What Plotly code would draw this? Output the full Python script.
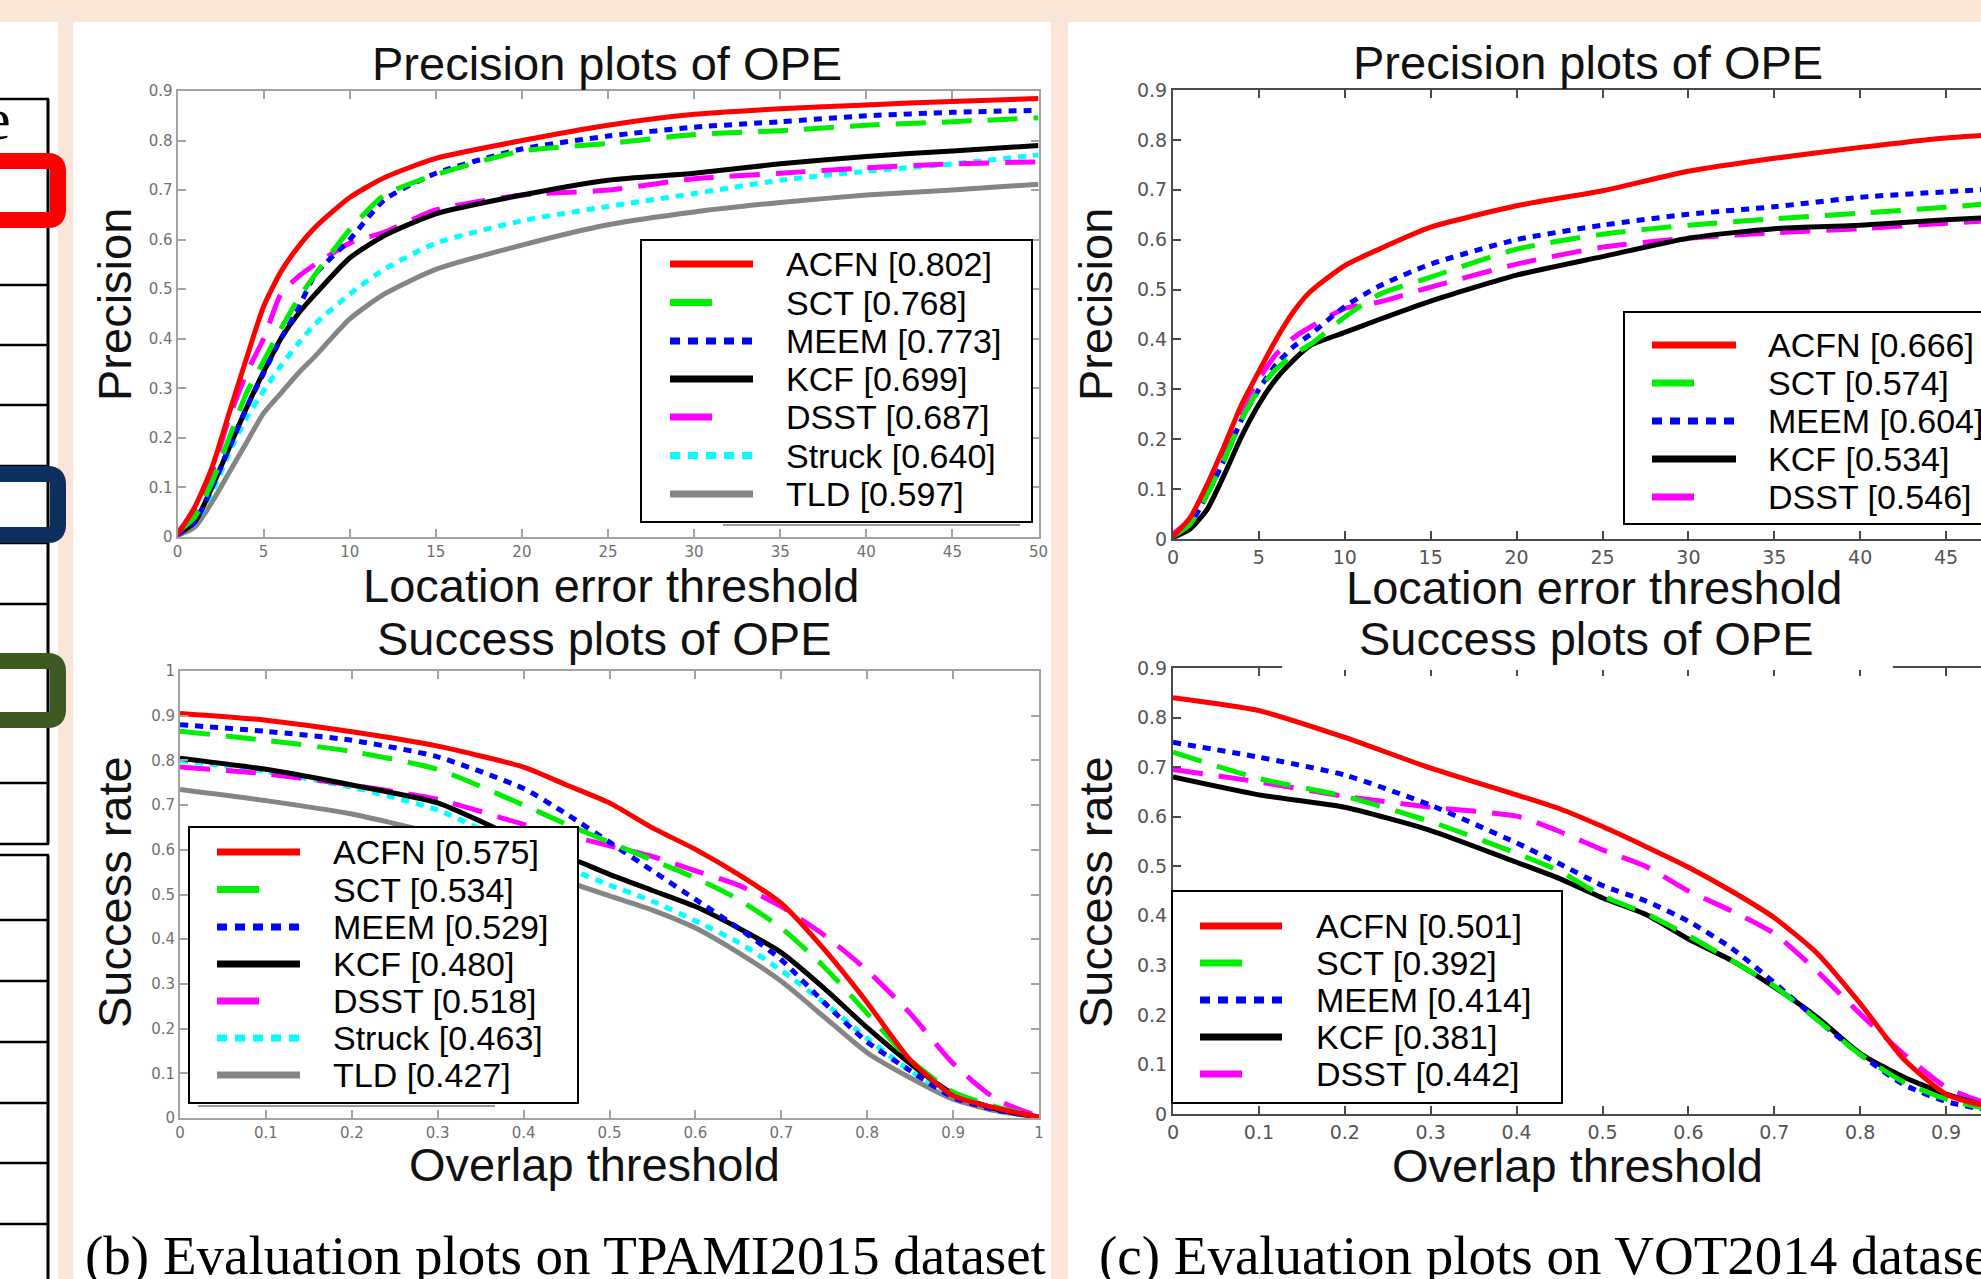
import plotly.graph_objects as go

W, H = 1981, 1279

# ---------------- data ----------------
trackers = ["ACFN", "SCT", "MEEM", "KCF", "DSST", "Struck", "TLD"]

prec_thresholds = [0, 1, 2, 3, 4, 5, 6, 7, 8, 10, 12, 15, 20, 25, 30, 35, 40, 45, 50]
overlap_thresholds = [0, 0.1, 0.2, 0.3, 0.4, 0.45, 0.5, 0.55, 0.6, 0.65, 0.7, 0.75, 0.8, 0.85, 0.9, 0.95, 1.0]

# TPAMI2015 precision
tpami_prec_acfn = [0.005, 0.06, 0.14, 0.25, 0.36, 0.465, 0.535, 0.585, 0.625, 0.685, 0.725, 0.764, 0.80, 0.831, 0.853, 0.864, 0.872, 0.879, 0.885]
tpami_prec_sct = [0.01, 0.04, 0.11, 0.20, 0.29, 0.355, 0.42, 0.48, 0.53, 0.62, 0.69, 0.731, 0.779, 0.794, 0.812, 0.82, 0.831, 0.838, 0.846]
tpami_prec_meem = [0.005, 0.03, 0.10, 0.18, 0.26, 0.33, 0.40, 0.46, 0.53, 0.60, 0.68, 0.734, 0.783, 0.809, 0.827, 0.838, 0.85, 0.857, 0.861]
tpami_prec_kcf = [0.005, 0.03, 0.10, 0.18, 0.26, 0.333, 0.40, 0.45, 0.49, 0.563, 0.608, 0.652, 0.69, 0.72, 0.734, 0.753, 0.768, 0.779, 0.79]
tpami_prec_dsst = [0.01, 0.05, 0.13, 0.24, 0.33, 0.40, 0.49, 0.525, 0.55, 0.593, 0.615, 0.66, 0.69, 0.70, 0.723, 0.734, 0.745, 0.753, 0.757]
tpami_prec_struck = [0.005, 0.03, 0.09, 0.17, 0.24, 0.295, 0.345, 0.39, 0.43, 0.49, 0.54, 0.593, 0.638, 0.667, 0.693, 0.72, 0.738, 0.753, 0.771]
tpami_prec_tld = [0.003, 0.02, 0.07, 0.13, 0.19, 0.25, 0.29, 0.33, 0.365, 0.44, 0.49, 0.54, 0.589, 0.63, 0.656, 0.675, 0.69, 0.70, 0.712]

# TPAMI2015 success
tpami_succ_acfn = [0.905, 0.89, 0.864, 0.832, 0.785, 0.745, 0.705, 0.649, 0.601, 0.545, 0.48, 0.377, 0.258, 0.13, 0.05, 0.022, 0.002]
tpami_succ_sct = [0.865, 0.845, 0.82, 0.78, 0.70, 0.657, 0.617, 0.577, 0.537, 0.489, 0.425, 0.338, 0.234, 0.13, 0.058, 0.025, 0.003]
tpami_succ_meem = [0.88, 0.865, 0.845, 0.808, 0.737, 0.68, 0.617, 0.553, 0.489, 0.425, 0.354, 0.258, 0.17, 0.106, 0.046, 0.018, 0.002]
tpami_succ_kcf = [0.805, 0.78, 0.745, 0.705, 0.62, 0.585, 0.545, 0.509, 0.473, 0.425, 0.37, 0.29, 0.202, 0.122, 0.054, 0.02, 0.002]
tpami_succ_dsst = [0.785, 0.77, 0.745, 0.713, 0.657, 0.633, 0.609, 0.585, 0.553, 0.521, 0.473, 0.409, 0.33, 0.234, 0.122, 0.042, 0.003]
tpami_succ_struck = [0.80, 0.775, 0.74, 0.689, 0.60, 0.56, 0.521, 0.485, 0.441, 0.393, 0.33, 0.258, 0.178, 0.106, 0.05, 0.02, 0.002]
tpami_succ_tld = [0.735, 0.71, 0.68, 0.635, 0.575, 0.53, 0.497, 0.465, 0.425, 0.37, 0.306, 0.226, 0.146, 0.09, 0.042, 0.016, 0.002]

# VOT2014 precision
vot_prec_acfn = [0.005, 0.043, 0.11, 0.188, 0.27, 0.336, 0.40, 0.455, 0.496, 0.548, 0.581, 0.625, 0.668, 0.698, 0.737, 0.763, 0.785, 0.804, 0.815]
vot_prec_sct = [0.005, 0.03, 0.09, 0.16, 0.24, 0.30, 0.34, 0.37, 0.39, 0.445, 0.49, 0.525, 0.581, 0.611, 0.629, 0.642, 0.653, 0.665, 0.68]
vot_prec_meem = [0.005, 0.03, 0.09, 0.16, 0.24, 0.30, 0.35, 0.385, 0.41, 0.466, 0.507, 0.551, 0.60, 0.629, 0.651, 0.666, 0.685, 0.696, 0.706]
vot_prec_kcf = [0.003, 0.02, 0.06, 0.13, 0.206, 0.27, 0.321, 0.358, 0.388, 0.414, 0.44, 0.477, 0.529, 0.566, 0.603, 0.622, 0.629, 0.64, 0.648]
vot_prec_dsst = [0.01, 0.04, 0.10, 0.18, 0.26, 0.321, 0.37, 0.403, 0.425, 0.462, 0.475, 0.505, 0.551, 0.585, 0.603, 0.614, 0.622, 0.633, 0.642]

# VOT2014 success
vot_succ_acfn = [0.84, 0.814, 0.76, 0.698, 0.644, 0.616, 0.58, 0.54, 0.498, 0.45, 0.396, 0.324, 0.223, 0.112, 0.04, 0.015, 0.003]
vot_succ_sct = [0.73, 0.677, 0.641, 0.59, 0.526, 0.49, 0.44, 0.405, 0.36, 0.31, 0.258, 0.19, 0.12, 0.065, 0.03, 0.01, 0.002]
vot_succ_meem = [0.75, 0.72, 0.684, 0.623, 0.547, 0.505, 0.461, 0.43, 0.389, 0.335, 0.265, 0.19, 0.12, 0.06, 0.025, 0.008, 0.001]
vot_succ_kcf = [0.68, 0.644, 0.619, 0.572, 0.508, 0.475, 0.436, 0.403, 0.353, 0.31, 0.256, 0.195, 0.122, 0.075, 0.04, 0.015, 0.002]
vot_succ_dsst = [0.695, 0.67, 0.641, 0.619, 0.601, 0.57, 0.533, 0.50, 0.45, 0.41, 0.364, 0.288, 0.202, 0.122, 0.054, 0.02, 0.002]

# legend scores
tpami_prec_scores = ["0.802", "0.768", "0.773", "0.699", "0.687", "0.640", "0.597"]
tpami_succ_scores = ["0.575", "0.534", "0.529", "0.480", "0.518", "0.463", "0.427"]
vot_prec_scores = ["0.666", "0.574", "0.604", "0.534", "0.546"]
vot_succ_scores = ["0.501", "0.392", "0.414", "0.381", "0.442"]

# tick labels
prec_xticks = [0, 5, 10, 15, 20, 25, 30, 35, 40, 45, 50]
prec_xticktext = ["0", "5", "10", "15", "20", "25", "30", "35", "40", "45", "50"]
y09_ticks = [0, 0.1, 0.2, 0.3, 0.4, 0.5, 0.6, 0.7, 0.8, 0.9]
y09_ticktext = ["0", "0.1", "0.2", "0.3", "0.4", "0.5", "0.6", "0.7", "0.8", "0.9"]
u1_ticks = [0, 0.1, 0.2, 0.3, 0.4, 0.5, 0.6, 0.7, 0.8, 0.9, 1]
u1_ticktext = ["0", "0.1", "0.2", "0.3", "0.4", "0.5", "0.6", "0.7", "0.8", "0.9", "1"]

panel_b_caption = "(b) Evaluation plots on TPAMI2015 dataset"
panel_c_caption = "(c) Evaluation plots on VOT2014 dataset"

tpami_prec = dict(zip(trackers, [tpami_prec_acfn, tpami_prec_sct, tpami_prec_meem, tpami_prec_kcf,
                                 tpami_prec_dsst, tpami_prec_struck, tpami_prec_tld]))
tpami_succ = dict(zip(trackers, [tpami_succ_acfn, tpami_succ_sct, tpami_succ_meem, tpami_succ_kcf,
                                 tpami_succ_dsst, tpami_succ_struck, tpami_succ_tld]))
vot_prec = dict(zip(trackers[:5], [vot_prec_acfn, vot_prec_sct, vot_prec_meem, vot_prec_kcf, vot_prec_dsst]))
vot_succ = dict(zip(trackers[:5], [vot_succ_acfn, vot_succ_sct, vot_succ_meem, vot_succ_kcf, vot_succ_dsst]))

# ---------------- styles ----------------
colors = {"ACFN": "#FF0000", "SCT": "#00EE00", "MEEM": "#0000FF", "KCF": "#000000",
          "DSST": "#FF00FF", "Struck": "#00FFFF", "TLD": "#858585"}
dashes = {"ACFN": "solid", "SCT": "30px,16px", "MEEM": "8px,7px", "KCF": "solid",
          "DSST": "30px,16px", "Struck": "8px,7px", "TLD": "solid"}
legend_dashes = {"ACFN": "solid", "SCT": "42px,80px", "MEEM": "10px,8px", "KCF": "solid",
                 "DSST": "42px,80px", "Struck": "10px,8px", "TLD": "solid"}

SANS = "Liberation Sans, Arial, Helvetica, sans-serif"
SERIF = "Liberation Serif, Times New Roman, serif"
TICKFONT = "DejaVu Sans, sans-serif"


def px(x):
    return x / W


def py(y):
    return 1 - y / H


fig = go.Figure()

panels = [
    ("x", "y", prec_thresholds, tpami_prec, trackers),
    ("x2", "y2", overlap_thresholds, tpami_succ, trackers),
    ("x3", "y3", prec_thresholds, vot_prec, trackers[:5]),
    ("x4", "y4", overlap_thresholds, vot_succ, trackers[:5]),
]
for xa, ya, xs, data, names in panels:
    for name in reversed(names):
        fig.add_trace(go.Scatter(
            x=xs, y=data[name], mode="lines", name=name, showlegend=False,
            line=dict(color=colors[name], width=5, dash=dashes[name], shape="spline", smoothing=0.6),
            xaxis=xa, yaxis=ya, hoverinfo="skip"))


def make_axis(domain, rng, tickvals, ticktext, dark, mirror, anchor, fsize):
    col = "#4a4a4a" if dark else "#a3a3a3"
    return dict(domain=domain, range=rng, tickvals=tickvals, ticktext=ticktext,
                ticks="inside", ticklen=8, tickwidth=2, tickcolor=col,
                showline=True, linecolor=col, linewidth=2, mirror=mirror,
                showgrid=False, zeroline=False, anchor=anchor, automargin=False,
                tickfont=dict(family=TICKFONT, size=fsize, color="#555555" if dark else "#707070"))


right_x_end = 2032.0  # pixel where x=50 / x=1 would fall (beyond the window)
frac_visible = (W - 1173) / (right_x_end - 1173)

fig.update_layout(
    xaxis=make_axis([px(177.5), px(1038.5)], [0, 50], prec_xticks, prec_xticktext, False, "ticks", "y", 15),
    yaxis=make_axis([py(537), py(91)], [0, 0.9], y09_ticks, y09_ticktext, False, "ticks", "x", 15),
    xaxis2=make_axis([px(180), px(1039)], [0, 1], u1_ticks, u1_ticktext, False, "ticks", "y2", 15),
    yaxis2=make_axis([py(1118), py(671)], [0, 1], u1_ticks, u1_ticktext, False, "ticks", "x2", 15),
    xaxis3=make_axis([px(1173), 1.0], [0, 50 * frac_visible], prec_xticks, prec_xticktext, True, "ticks", "y3", 19),
    yaxis3=make_axis([py(539), py(90)], [0, 0.9], y09_ticks, y09_ticktext, True, False, "x3", 19),
    xaxis4=make_axis([px(1173), 1.0], [0, 1 * frac_visible], u1_ticks, u1_ticktext, True, "ticks", "y4", 19),
    yaxis4=make_axis([py(1114), py(668)], [0, 0.9], y09_ticks, y09_ticktext, True, False, "x4", 19),
)

shapes = []
annotations = []

# page background panels
shapes.append(dict(type="rect", xref="paper", yref="paper", x0=px(-5), x1=px(58), y0=py(1290), y1=py(22),
                   fillcolor="white", line=dict(width=0), layer="below"))
shapes.append(dict(type="rect", xref="paper", yref="paper", x0=px(73), x1=px(1051), y0=py(1290), y1=py(22),
                   fillcolor="white", line=dict(width=0), layer="below"))
shapes.append(dict(type="rect", xref="paper", yref="paper", x0=px(1068), x1=px(1990), y0=py(1290), y1=py(22),
                   fillcolor="white", line=dict(width=0), layer="below"))

# left table fragment
table_rows_1 = [99, 162, 224, 285, 345, 405, 466, 543, 604, 665, 724, 783, 844]
table_rows_2 = [855, 920, 981, 1042, 1103, 1163, 1224]
for yy in table_rows_1 + table_rows_2:
    shapes.append(dict(type="line", xref="paper", yref="paper", x0=px(-5), x1=px(49), y0=py(yy), y1=py(yy),
                       line=dict(color="black", width=2.5)))
shapes.append(dict(type="line", xref="paper", yref="paper", x0=px(48), x1=px(48), y0=py(99), y1=py(844),
                   line=dict(color="black", width=3)))
shapes.append(dict(type="line", xref="paper", yref="paper", x0=px(48), x1=px(48), y0=py(855), y1=py(1290),
                   line=dict(color="black", width=3)))
annotations.append(dict(text="e", x=px(13), y=py(119), xref="paper", yref="paper", xanchor="right",
                        yanchor="middle", showarrow=False, font=dict(family=SERIF, size=60, color="black")))


def rounded_rect(x0, y0, x1, y1, r):
    X0, X1 = px(x0), px(x1)
    Y0, Y1 = py(y0), py(y1)
    rx, ry = r / W, r / H
    return (f"M {X0},{Y0} L {X1 - rx},{Y0} Q {X1},{Y0} {X1},{Y0 - ry} "
            f"L {X1},{Y1 + ry} Q {X1},{Y1} {X1 - rx},{Y1} L {X0},{Y1}")


for (ya, yb, col) in [(161, 220, "#FF0000"), (474, 535, "#0D2F5E"), (661, 720, "#3D5A22")]:
    shapes.append(dict(type="path", xref="paper", yref="paper", path=rounded_rect(-30, ya, 58, yb, 10),
                       line=dict(color=col, width=16)))

# broken top frame line on the VOT success plot
shapes.append(dict(type="line", xref="x4", yref="y4 domain", x0=0.127, x1=0.838, y0=1, y1=1,
                   line=dict(color="white", width=4), layer="above"))


def add_legend(box, rows, sample, text_x, names, scores, shadow=None):
    x0, y0, x1, y1 = box
    if shadow is not None:
        shapes.append(dict(type="line", xref="paper", yref="paper", x0=px(shadow[0]), x1=px(shadow[1]),
                           y0=py(y1 + 3), y1=py(y1 + 3), layer="above",
                           line=dict(color="#9a9a9a", width=2)))
    shapes.append(dict(type="rect", xref="paper", yref="paper", x0=px(x0), x1=px(x1), y0=py(y1), y1=py(y0),
                       line=dict(color="black", width=2), fillcolor="white", layer="above"))
    for name, score, yy in zip(names, scores, rows):
        shapes.append(dict(type="line", xref="paper", yref="paper", x0=px(sample[0]), x1=px(sample[1]),
                           y0=py(yy), y1=py(yy), layer="above",
                           line=dict(color=colors[name], width=7, dash=legend_dashes[name])))
        annotations.append(dict(text=f"{name} [{score}]", x=px(text_x), y=py(yy), xref="paper", yref="paper",
                                xanchor="left", yanchor="middle", showarrow=False,
                                font=dict(family=SANS, size=34, color="black")))


add_legend((641, 240, 1032, 522), [264, 302.5, 341, 379, 417, 455.5, 494], (670, 753), 784,
           trackers, tpami_prec_scores, shadow=(723, 1020))
add_legend((189, 827, 578, 1103), [852, 889.5, 927, 964, 1001, 1038, 1075], (217, 300), 331,
           trackers, tpami_succ_scores, shadow=(198, 495))
add_legend((1624, 312, 2100, 524), [345, 383, 421, 459, 497], (1652, 1736), 1766,
           trackers[:5], vot_prec_scores)
add_legend((1172, 891, 1562, 1103), [926, 963, 1000, 1037, 1074], (1200, 1282), 1314,
           trackers[:5], vot_succ_scores)

# titles and axis labels
labels = [
    ("Precision plots of OPE", 607, 64, 0),
    ("Location error threshold", 611, 586, 0),
    ("Success plots of OPE", 604, 638, 0),
    ("Overlap threshold", 594, 1164, 0),
    ("Precision", 114, 305, -90),
    ("Success rate", 114, 892, -90),
    ("Precision plots of OPE", 1588, 63, 0),
    ("Location error threshold", 1594, 587, 0),
    ("Success plots of OPE", 1586, 638, 0),
    ("Overlap threshold", 1577, 1165, 0),
    ("Precision", 1095, 305, -90),
    ("Success rate", 1095, 892, -90),
]
for text, xx, yy, ang in labels:
    annotations.append(dict(text=text, x=px(xx), y=py(yy), xref="paper", yref="paper", xanchor="center",
                            yanchor="middle", showarrow=False, textangle=ang,
                            font=dict(family=SANS, size=47, color="#111111")))

annotations.append(dict(text=panel_b_caption, x=px(83), y=py(1255), xref="paper", yref="paper",
                        xanchor="left", yanchor="middle", showarrow=False,
                        font=dict(family=SERIF, size=55, color="black")))
annotations.append(dict(text=panel_c_caption, x=px(1097), y=py(1255), xref="paper", yref="paper",
                        xanchor="left", yanchor="middle", showarrow=False,
                        font=dict(family=SERIF, size=55, color="black")))

fig.update_layout(
    width=W, height=H, margin=dict(l=0, r=0, t=0, b=0, pad=0, autoexpand=False),
    paper_bgcolor="#FAE5D9", plot_bgcolor="white",
    shapes=shapes, annotations=annotations, showlegend=False,
)

fig.write_html("out.html", config={"displayModeBar": False},
               post_script="document.body.style.margin='0';document.body.style.overflow='hidden';")
